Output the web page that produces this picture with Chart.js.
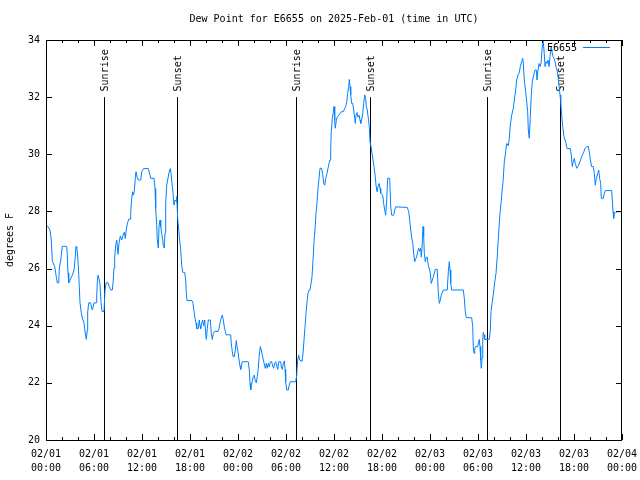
<!DOCTYPE html>
<html>
<head>
<meta charset="utf-8">
<script src="https://cdn.jsdelivr.net/npm/chart.js@4"></script>
<style>
  html, body { margin: 0; padding: 0; background: #fff; }
  #wrap { width: 640px; height: 480px; }
</style>
</head>
<body>
<div id="wrap"><canvas id="dewChart" width="640" height="480"></canvas></div>
<script>
// hours since 02/01 00:00 UTC
const hours = [
  0.15, 0.5, 0.66, 0.79, 1.09, 1.29, 1.41, 1.59, 1.66, 1.84,
  2.04, 2.59, 2.66, 2.75, 2.84, 3.0, 3.29, 3.5, 3.63, 3.75,
  3.84, 3.91, 4.04, 4.16, 4.25, 4.41, 4.54, 4.75, 4.91, 5.04,
  5.16, 5.21, 5.34, 5.59, 5.71, 5.81, 6.0, 6.29, 6.34, 6.41,
  6.5, 6.66, 6.75, 6.88, 7.0, 7.25, 7.38, 7.5, 7.75, 7.91,
  8.09, 8.29, 8.38, 8.5, 8.59, 8.71, 8.84, 9.0, 9.13, 9.29,
  9.46, 9.63, 9.79, 9.91, 10.04, 10.16, 10.34, 10.5, 10.59, 10.71,
  10.84, 10.91, 11.04, 11.16, 11.25, 11.38, 11.54, 11.84, 11.96, 12.13,
  12.25, 12.79, 12.96, 13.09, 13.5, 13.63, 13.71, 13.84, 13.91, 14.04,
  14.13, 14.25, 14.34, 14.46, 14.59, 14.66, 14.79, 14.88, 14.96, 15.09,
  15.21, 15.34, 15.46, 15.54, 15.63, 15.75, 15.88, 16.0, 16.13, 16.25,
  16.34, 16.46, 16.59, 16.71, 16.84, 16.96, 17.09, 17.34, 17.46, 17.54,
  17.63, 18.25, 18.38, 18.5, 18.63, 18.75, 18.84, 19.04, 19.16, 19.25,
  19.34, 19.46, 19.59, 19.71, 19.84, 19.96, 20.04, 20.16, 20.29, 20.54,
  20.66, 20.79, 20.91, 21.09, 21.5, 21.63, 21.75, 21.88, 22.04, 22.16,
  22.29, 22.41, 22.5, 23.09, 23.16, 23.29, 23.38, 23.54, 23.66, 23.79,
  23.88, 24.0, 24.13, 24.25, 24.34, 24.41, 24.54, 25.29, 25.41, 25.5,
  25.59, 25.66, 25.79, 25.91, 26.04, 26.16, 26.29, 26.41, 26.54, 26.66,
  26.79, 26.91, 27.04, 27.16, 27.29, 27.41, 27.54, 27.66, 27.79, 27.91,
  28.04, 28.21, 28.34, 28.46, 28.59, 28.71, 28.84, 28.96, 29.09, 29.34,
  29.41, 29.54, 29.66, 29.79, 29.88, 29.96, 30.09, 30.29, 30.41, 30.54,
  31.21, 31.34, 31.46, 31.59, 31.71, 32.0, 32.13, 32.25, 32.38, 32.5,
  32.63, 32.75, 32.88, 33.0, 33.13, 33.25, 33.38, 33.5, 33.63, 33.75,
  33.88, 34.0, 34.13, 34.25, 34.46, 34.59, 34.71, 34.84, 34.96, 35.13,
  35.25, 35.38, 35.5, 35.59, 35.66, 35.79, 35.91, 36.0, 36.09, 36.16,
  36.29, 36.41, 36.59, 36.75, 36.91, 37.16, 37.29, 37.46, 37.59, 37.71,
  37.84, 37.91, 38.0, 38.09, 38.21, 38.34, 38.46, 38.59, 38.66, 38.75,
  38.88, 39.0, 39.13, 39.25, 39.34, 39.46, 39.59, 39.71, 39.84, 39.96,
  40.04, 40.16, 40.29, 40.41, 40.5, 40.63, 40.75, 40.88, 41.0, 41.13,
  41.25, 41.38, 41.5, 41.63, 41.75, 41.84, 42.09, 42.21, 42.34, 42.46,
  42.59, 42.71, 42.96, 43.09, 43.21, 43.46, 43.59, 43.71, 45.16, 45.34,
  45.46, 45.59, 45.71, 45.84, 45.96, 46.09, 46.21, 46.34, 46.46, 46.59,
  46.71, 46.84, 46.91, 47.0, 47.13, 47.21, 47.29, 47.41, 47.54, 47.66,
  47.79, 47.91, 48.04, 48.16, 48.29, 48.41, 48.54, 48.66, 48.91, 49.04,
  49.16, 49.29, 49.41, 49.54, 49.66, 50.16, 50.29, 50.41, 50.5, 50.59,
  50.71, 52.16, 52.29, 52.41, 52.54, 53.21, 53.34, 53.41, 53.5, 53.59,
  53.71, 53.96, 54.09, 54.16, 54.25, 54.34, 54.41, 54.5, 54.59, 54.66,
  54.75, 54.84, 55.41, 55.54, 55.63, 55.75, 55.91, 56.09, 56.25, 56.41,
  56.59, 56.75, 56.88, 57.0, 57.13, 57.29, 57.46, 57.59, 57.79, 57.91,
  58.04, 58.21, 58.41, 58.54, 58.71, 58.84, 59.0, 59.16, 59.29, 59.46,
  59.59, 59.66, 59.79, 59.96, 60.09, 60.21, 60.29, 60.41, 60.54, 60.66,
  60.79, 60.96, 61.13, 61.29, 61.38, 61.5, 61.63, 61.75, 61.88, 62.0,
  62.13, 62.25, 62.38, 62.5, 62.63, 62.75, 62.88, 63.0, 63.13, 63.25,
  63.38, 63.5, 63.63, 63.75, 63.88, 64.0, 64.13, 64.25, 64.34, 64.46,
  64.59, 64.75, 64.88, 65.0, 65.13, 65.54, 65.66, 65.79, 65.91, 66.04,
  66.16, 66.34, 66.54, 66.75, 66.96, 67.16, 67.38, 67.59, 67.79, 67.91,
  68.04, 68.21, 68.41, 68.54, 68.66, 68.79, 68.96, 69.09, 69.21, 69.34,
  69.41, 69.66, 69.79, 69.91, 70.71, 70.79, 70.88, 70.96, 71.04, 71.16,
  71.41, 71.88
];

// dew point, degrees F
const dewPoint = [
  27.5, 27.35, 27.0, 26.26, 26.07, 25.7, 25.5, 25.5, 26.0, 26.3,
  26.78, 26.78, 26.5, 25.84, 25.5, 25.6, 25.77, 25.95, 26.3, 26.77,
  26.7, 26.6, 26.1, 25.37, 24.8, 24.45, 24.27, 24.1, 23.74, 23.52,
  23.85, 24.48, 24.8, 24.8, 24.6, 24.55, 24.8, 24.8, 25.04, 25.5,
  25.77, 25.6, 25.45, 24.8, 24.5, 24.5, 25.25, 25.5, 25.5, 25.37,
  25.25, 25.25, 25.5, 26.02, 26.42, 26.8, 27.0, 26.5, 26.9, 27.14,
  27.0, 27.17, 27.27, 27.05, 27.36, 27.56, 27.73, 27.73, 27.97, 28.46,
  28.69, 28.57, 28.69, 29.16, 29.39, 29.2, 29.1, 29.1, 29.39, 29.48,
  29.5, 29.5, 29.31, 29.16, 29.16, 28.8, 28.1, 27.53, 27.0, 26.72,
  27.47, 27.7, 27.47, 27.23, 27.0, 26.8, 26.72, 27.25, 28.3, 28.92,
  29.1, 29.31, 29.45, 29.5, 29.33, 28.98, 28.63, 28.22, 28.4, 28.35,
  28.52, 27.76, 27.35, 27.0, 26.65, 26.12, 25.87, 25.87, 25.6, 25.13,
  24.88, 24.88, 24.78, 24.5, 24.26, 24.1, 23.9, 23.9, 24.2, 24.0,
  23.9, 24.1, 24.2, 24.0, 24.2, 23.73, 23.52, 23.9, 24.2, 24.2,
  23.73, 23.52, 23.73, 23.8, 23.8, 23.9, 24.1, 24.26, 24.37, 24.2,
  23.96, 23.8, 23.68, 23.68, 23.38, 23.09, 22.92, 22.92, 23.15, 23.48,
  23.27, 23.09, 22.8, 22.59, 22.47, 22.59, 22.74, 22.74, 22.45, 21.98,
  21.75, 21.9, 22.07, 22.22, 22.27, 22.07, 22.0, 22.22, 22.51, 22.97,
  23.27, 23.15, 22.97, 22.8, 22.66, 22.51, 22.68, 22.51, 22.68, 22.56,
  22.74, 22.74, 22.59, 22.51, 22.68, 22.74, 22.59, 22.47, 22.74, 22.74,
  22.56, 22.47, 22.68, 22.77, 22.47, 22.04, 21.75, 21.75, 21.93, 22.04,
  22.04, 22.27, 22.8, 22.97, 22.8, 22.75, 23.03, 23.5, 23.97, 24.43,
  24.84, 25.13, 25.25, 25.25, 25.48, 25.71, 26.3, 26.94, 27.41, 27.93,
  28.34, 28.81, 29.16, 29.51, 29.51, 29.3, 28.98, 28.92, 29.16, 29.33,
  29.51, 29.68, 29.8, 30.2, 30.79, 31.26, 31.46, 31.67, 31.2, 30.91,
  31.2, 31.3, 31.37, 31.42, 31.49, 31.49, 31.57, 31.67, 31.84, 32.13,
  32.37, 32.62, 32.37, 32.08, 31.78, 31.78, 31.55, 31.26, 31.08, 31.37,
  31.46, 31.3, 31.37, 31.2, 31.08, 31.2, 31.42, 31.78, 32.08, 31.96,
  31.67, 31.55, 31.26, 30.97, 30.44, 30.27, 30.03, 29.8, 29.57, 29.28,
  28.92, 28.69, 28.86, 28.98, 28.81, 28.63, 28.57, 28.28, 28.05, 27.87,
  28.4, 29.16, 29.16, 28.16, 27.87, 27.87, 28.05, 28.16, 28.14, 27.99,
  27.7, 27.35, 27.09, 26.9, 26.53, 26.24, 26.35, 26.4, 26.6, 26.71,
  26.6, 26.71, 26.4, 26.71, 27.47, 27.15, 26.53, 26.24, 26.4, 26.4,
  26.1, 26.0, 25.83, 25.48, 25.6, 25.7, 25.84, 25.97, 25.97, 25.13,
  24.78, 24.9, 25.07, 25.15, 25.25, 25.25, 25.89, 26.24, 25.95, 25.48,
  25.25, 25.25, 24.96, 24.49, 24.28, 24.28, 23.97, 23.27, 23.03, 23.2,
  23.27, 23.27, 23.44, 23.52, 23.27, 22.8, 22.51, 22.86, 23.5, 23.76,
  23.68, 23.52, 23.52, 23.85, 24.49, 24.78, 25.08, 25.54, 25.83, 26.44,
  27.29, 27.93, 28.28, 28.69, 29.04, 29.74, 30.09, 30.38, 30.3, 30.56,
  31.03, 31.37, 31.6, 31.9, 32.25, 32.6, 32.78, 32.85, 33.07, 33.24,
  33.36, 33.19, 32.6, 32.19, 31.84, 31.49, 30.85, 30.56, 31.32, 32.08,
  32.54, 32.78, 32.95, 32.95, 32.6, 32.95, 33.18, 33.07, 33.18, 33.65,
  34.0, 33.65, 33.07, 33.24, 33.18, 33.3, 33.07, 33.42, 33.77, 33.59,
  33.42, 33.36, 33.24, 33.07, 32.95, 32.72, 32.42, 32.08, 31.84, 31.37,
  30.97, 30.62, 30.5, 30.38, 30.2, 30.2, 29.97, 29.57, 29.74, 29.86,
  29.68, 29.51, 29.6, 29.74, 29.92, 30.03, 30.2, 30.27, 30.27, 30.09,
  29.8, 29.57, 29.57, 29.33, 28.92, 29.15, 29.33, 29.45, 29.15, 28.98,
  28.46, 28.46, 28.63, 28.73, 28.73, 28.4, 27.99, 27.76, 27.93, 27.96,
  27.99, 27.99
];

const sunrise = [7.29, 31.21, 55.16];
const sunset = [16.41, 40.46, 64.25];
const dayLabels = ['02/01', '02/02', '02/03', '02/04'];

const FONT = '10px "DejaVu Sans Mono", "Liberation Mono", monospace';
const lineColor = 'rgb(0, 128, 255)';

// gnuplot-ish extras: frame, inward ticks, sun markers, legend, titles
const gnuplotLook = {
    id: 'gnuplotLook',
    beforeDatasetsDraw(chart) {
        const ctx = chart.ctx;
        const x = chart.scales.x, y = chart.scales.y;
        const marks = sunrise.map(t => [t, 'Sunrise']).concat(sunset.map(t => [t, 'Sunset']));
        ctx.save();
        ctx.strokeStyle = '#000';
        ctx.lineWidth = 1;
        ctx.fillStyle = '#000';
        ctx.font = FONT;
        marks.forEach(([t, label]) => {
            const px = Math.round(x.getPixelForValue(t)) + 0.5;
            ctx.beginPath();
            ctx.moveTo(px, y.getPixelForValue(20));
            ctx.lineTo(px, y.getPixelForValue(32));
            ctx.stroke();
            ctx.save();
            ctx.translate(px + 1, y.getPixelForValue(32.2));
            ctx.rotate(-Math.PI / 2);
            ctx.textAlign = 'left';
            ctx.textBaseline = 'middle';
            ctx.fillText(label, 0, 0);
            ctx.restore();
        });
        ctx.restore();
    },
    afterDraw(chart) {
        const ctx = chart.ctx;
        const a = chart.chartArea;
        const x = chart.scales.x, y = chart.scales.y;
        ctx.save();
        ctx.strokeStyle = '#000';
        ctx.lineWidth = 1;
        ctx.strokeRect(a.left + 0.5, a.top + 0.5, a.right - a.left - 1, a.bottom - a.top);

        ctx.beginPath();
        for (let h = 0; h <= 72; h += 2) {
            const px = Math.round(x.getPixelForValue(h)) + 0.5;
            const len = h % 6 === 0 ? 6 : 3;
            ctx.moveTo(px, a.bottom); ctx.lineTo(px, a.bottom - len);
            ctx.moveTo(px, a.top); ctx.lineTo(px, a.top + len);
        }
        y.ticks.forEach(t => {
            const py = Math.round(y.getPixelForValue(t.value)) + 0.5;
            ctx.moveTo(a.left, py); ctx.lineTo(a.left + 6, py);
            ctx.moveTo(a.right, py); ctx.lineTo(a.right - 6, py);
        });
        ctx.stroke();

        ctx.fillStyle = '#000';
        ctx.font = FONT;
        ctx.textAlign = 'center';
        ctx.textBaseline = 'middle';
        ctx.fillText('Dew Point for E6655 on 2025-Feb-01 (time in UTC)', (a.left + a.right) / 2, 19);

        ctx.save();
        ctx.translate(10, (a.top + a.bottom) / 2);
        ctx.rotate(-Math.PI / 2);
        ctx.fillText('degrees F', 0, 0);
        ctx.restore();

        // key
        ctx.textAlign = 'right';
        ctx.fillText('E6655', a.right - 45, a.top + 8);
        ctx.strokeStyle = lineColor;
        ctx.beginPath();
        ctx.moveTo(a.right - 39, a.top + 7.5);
        ctx.lineTo(a.right - 12, a.top + 7.5);
        ctx.stroke();
        ctx.restore();
    }
};

const ctx = document.getElementById('dewChart');

new Chart(ctx, {
    type: 'line',
    data: {
        datasets: [{
            label: 'E6655',
            data: hours.map((h, i) => ({ x: h, y: dewPoint[i] })),
            borderColor: lineColor,
            borderWidth: 1,
            pointRadius: 0,
            tension: 0,
            fill: false
        }]
    },
    options: {
        responsive: false,
        animation: false,
        layout: { padding: { top: 40, right: 18, left: 0, bottom: 0 } },
        plugins: {
            legend: { display: false },
            title: { display: false },
            tooltip: { enabled: false }
        },
        scales: {
            x: {
                type: 'linear',
                min: 0,
                max: 72,
                afterFit: s => {
                    s.height = 40;
                    s.paddingLeft = 0;
                    s.paddingRight = 0;
                },
                grid: { display: false, drawTicks: false },
                border: { display: false },
                ticks: {
                    stepSize: 6,
                    autoSkip: false,
                    maxRotation: 0,
                    padding: 7,
                    color: '#000',
                    font: { family: '"DejaVu Sans Mono", monospace', size: 10, lineHeight: 1.4 },
                    callback: v => {
                        const hh = v % 24;
                        return [dayLabels[Math.floor(v / 24)], (hh < 10 ? '0' : '') + hh + ':00'];
                    }
                }
            },
            y: {
                min: 20,
                max: 34,
                afterFit: s => { s.width = 46; },
                grid: { display: false, drawTicks: false },
                border: { display: false },
                ticks: {
                    stepSize: 2,
                    padding: 6,
                    color: '#000',
                    font: { family: '"DejaVu Sans Mono", monospace', size: 10 }
                }
            }
        }
    },
    plugins: [gnuplotLook]
});
</script>
</body>
</html>
